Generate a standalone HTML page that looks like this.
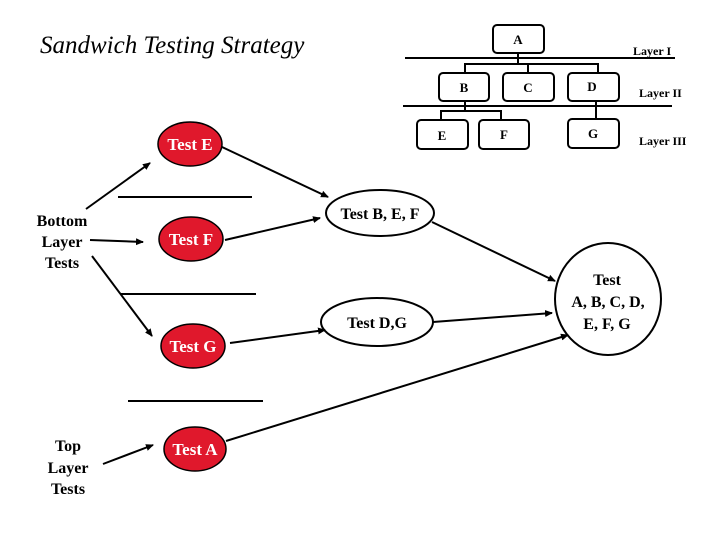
<!DOCTYPE html>
<html><head><style>body{margin:0;background:#fff}svg{display:block}</style></head><body>
<svg width="720" height="540" xmlns="http://www.w3.org/2000/svg" font-family="Liberation Serif, serif">
<defs><marker id="ar" markerWidth="8" markerHeight="8" refX="7" refY="4" orient="auto" markerUnits="userSpaceOnUse"><path d="M0,0.5 L8,4 L0,7.5 z" fill="#000"/></marker></defs>
<text x="40" y="53" font-size="25" font-style="italic">Sandwich Testing Strategy</text>
<g fill="none" stroke="#000" stroke-width="2">
<rect x="493" y="25" width="51" height="28" rx="4"/>
<rect x="439" y="73" width="50" height="28" rx="4"/>
<rect x="503" y="73" width="51" height="28" rx="4"/>
<rect x="568" y="73" width="51" height="28" rx="4"/>
<rect x="417" y="120" width="51" height="29" rx="4"/>
<rect x="479" y="120" width="50" height="29" rx="4"/>
<rect x="568" y="119" width="51" height="29" rx="4"/>
<line x1="405" y1="58" x2="675" y2="58"/>
<line x1="403" y1="106" x2="672" y2="106"/>
<polyline points="518,53 518,64"/>
<polyline points="465,73 465,64 598,64 598,73"/>
<line x1="528" y1="64" x2="528" y2="73"/>
<polyline points="465,101 465,111"/>
<polyline points="441,120 441,111 501,111 501,120"/>
<line x1="596" y1="101" x2="596" y2="119"/>
<line x1="118" y1="197" x2="252" y2="197"/>
<line x1="120" y1="294" x2="256" y2="294"/>
<line x1="128" y1="401" x2="263" y2="401"/>
</g>
<g font-size="13" font-weight="bold" text-anchor="middle">
<text x="518" y="44">A</text><text x="464" y="92">B</text><text x="528" y="92">C</text><text x="592" y="91">D</text>
<text x="442" y="140">E</text><text x="504" y="139">F</text><text x="593" y="138">G</text>
</g>
<g font-size="12" font-weight="bold">
<text x="633" y="55">Layer I</text><text x="639" y="97">Layer II</text><text x="639" y="145">Layer III</text>
</g>
<g fill="#e0182c" stroke="#000" stroke-width="1.5">
<ellipse cx="190" cy="144" rx="32" ry="22"/>
<ellipse cx="191" cy="239" rx="32" ry="22"/>
<ellipse cx="193" cy="346" rx="32" ry="22"/>
<ellipse cx="195" cy="449" rx="31" ry="22"/>
</g>
<g fill="#fff" stroke="#000" stroke-width="2">
<ellipse cx="380" cy="213" rx="54" ry="23"/>
<ellipse cx="377" cy="322" rx="56" ry="24"/>
<ellipse cx="608" cy="299" rx="53" ry="56"/>
</g>
<g font-size="17" font-weight="bold" text-anchor="middle" fill="#fff">
<text x="190" y="150">Test E</text><text x="191" y="245">Test F</text>
<text x="193" y="352">Test G</text><text x="195" y="455">Test A</text>
</g>
<g font-size="16" font-weight="bold" text-anchor="middle">
<text x="380" y="219">Test B, E, F</text><text x="377" y="328">Test D,G</text>
<text x="607" y="285">Test</text><text x="608" y="307">A, B, C, D,</text><text x="607" y="329">E, F, G</text>
<text x="62" y="226">Bottom</text><text x="62" y="247">Layer</text><text x="62" y="268">Tests</text>
<text x="68" y="451">Top</text><text x="68" y="473">Layer</text><text x="68" y="494">Tests</text>
</g>
<g stroke="#000" stroke-width="2" marker-end="url(#ar)">
<line x1="86" y1="209" x2="150" y2="163"/>
<line x1="90" y1="240" x2="143" y2="242"/>
<line x1="92" y1="256" x2="152" y2="336"/>
<line x1="103" y1="464" x2="153" y2="445"/>
<line x1="222" y1="147" x2="328" y2="197"/>
<line x1="225" y1="240" x2="320" y2="218"/>
<line x1="230" y1="343" x2="325" y2="330"/>
<line x1="432" y1="222" x2="555" y2="281"/>
<line x1="433" y1="322" x2="552" y2="313"/>
<line x1="226" y1="441" x2="568" y2="335"/>
</g>
</svg>
</body></html>
